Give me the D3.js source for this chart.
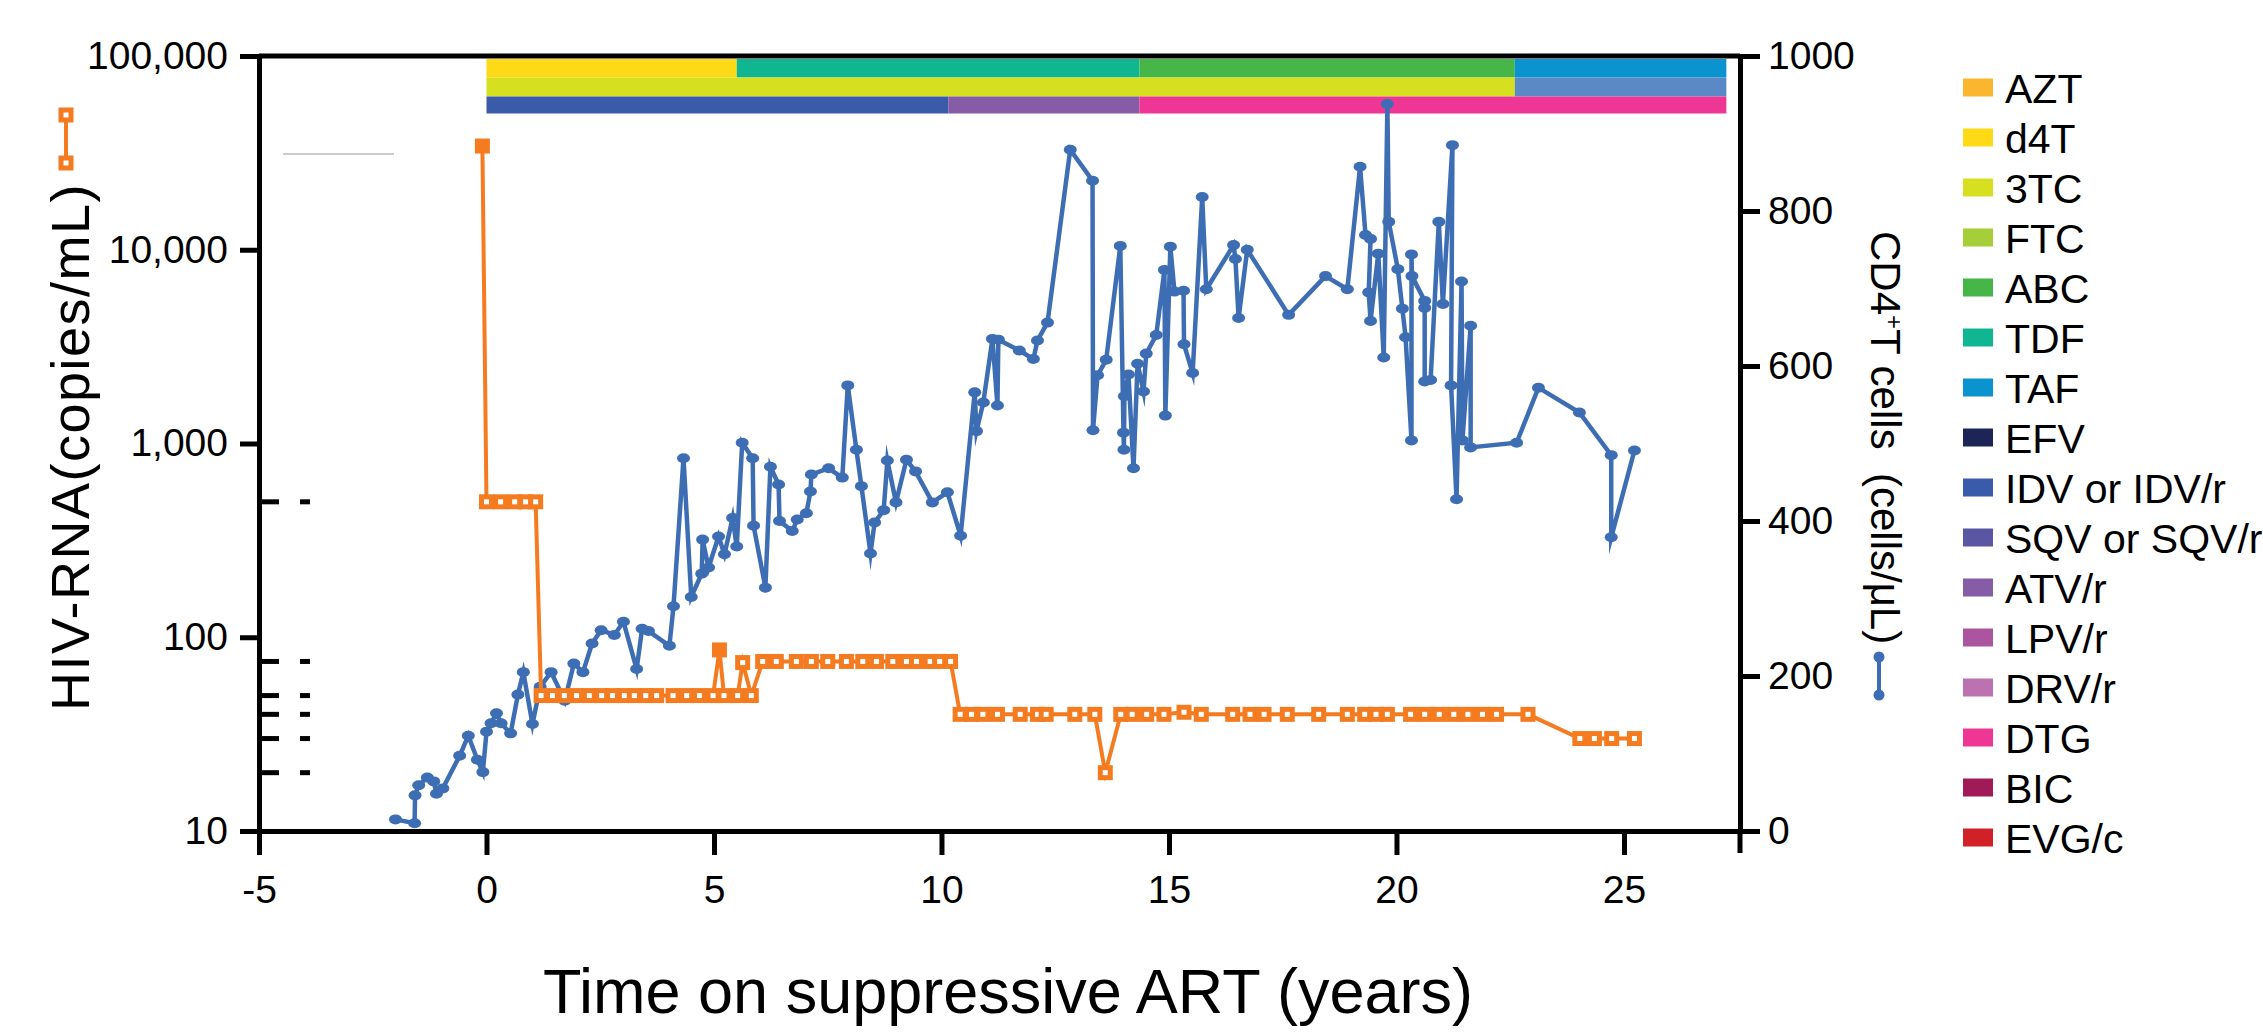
<!DOCTYPE html>
<html>
<head>
<meta charset="utf-8">
<script src="https://cdn.jsdelivr.net/npm/d3@7"></script>
<style>
  body { margin: 0; background: #fff; }
  text { font-family: "Liberation Sans", Arial, Helvetica, sans-serif; }
</style>
</head>
<body>
<div id="chart"></div>
<script>
// ---- data ----
const cd4Years = [-2.0,-1.58,-1.57,-1.49,-1.3,-1.16,-1.1,-0.96,-0.59,-0.4,-0.2,-0.08,0.0,0.1,0.22,0.32,0.53,0.69,0.81,1.01,1.18,1.42,1.72,1.92,2.12,2.32,2.52,2.81,3.01,3.3,3.42,3.56,4.02,4.11,4.33,4.5,4.73,4.75,4.88,5.1,5.23,5.41,5.5,5.62,5.85,5.87,6.13,6.24,6.42,6.44,6.72,6.83,7.03,7.12,7.14,7.52,7.82,7.94,8.13,8.24,8.44,8.53,8.73,8.81,9.0,9.23,9.43,9.8,10.13,10.42,10.73,10.77,10.92,11.12,11.23,11.25,11.71,12.02,12.11,12.33,12.83,13.32,13.33,13.43,13.62,13.93,14.0,14.01,14.02,14.11,14.22,14.31,14.44,14.5,14.72,14.9,14.92,15.03,15.12,15.32,15.33,15.52,15.73,15.82,16.42,16.46,16.53,16.72,17.63,18.44,18.92,19.2,19.32,19.43,19.39,19.43,19.6,19.72,19.8,19.83,20.03,20.13,20.2,20.33,20.33,20.34,20.62,20.62,20.62,20.75,20.93,21.02,21.23,21.2,21.32,21.43,21.45,21.63,21.63,22.64,23.12,24.02,24.72,24.72,25.23];
const cd4Counts = [15,10,46,59,69,64,48,55,97,123,92,76,128,139,152,139,126,176,205,138,186,205,168,216,205,242,259,253,270,209,261,258,239,290,481,302,332,376,340,380,357,404,367,501,481,394,314,470,447,400,387,402,410,438,460,468,456,575,492,445,358,398,414,478,424,479,464,424,437,381,566,516,553,635,549,634,620,609,633,656,879,839,517,588,608,755,514,492,561,589,468,603,567,616,640,724,536,754,696,697,628,591,818,699,756,738,662,750,666,716,699,857,769,764,695,658,745,611,938,786,725,674,637,504,744,716,684,675,580,582,786,680,885,575,428,709,504,652,495,501,572,540,485,379,491];

const vlYears = [-0.09,0.0,0.31,0.62,0.86,1.08,1.2,1.45,1.71,1.98,2.26,2.53,2.77,3.03,3.25,3.5,3.74,4.1,4.4,4.68,4.98,5.12,5.22,5.52,5.63,5.82,6.07,6.37,6.81,7.14,7.5,7.91,8.27,8.57,8.93,9.23,9.45,9.75,9.96,10.2,10.41,10.66,10.91,11.23,11.73,12.11,12.3,12.93,13.37,13.6,13.94,14.19,14.51,14.89,15.33,15.71,16.4,16.78,17.09,17.6,18.29,18.92,19.3,19.55,19.8,20.31,20.62,20.94,21.26,21.57,21.89,22.2,22.89,24.03,24.35,24.73,25.23];
const vlCopies = [34300,500,500,500,500,500,50,50,50,50,50,50,50,50,50,50,50,50,50,50,50,86,50,50,74,50,75,75,75,75,75,75,75,75,75,75,75,75,75,75,40,40,40,40,40,40,40,40,40,20,40,40,40,40,41,40,40,40,40,40,40,40,40,40,40,40,40,40,40,40,40,40,40,30,30,30,30];
// detected (filled marker) vs below limit (open marker)
const vlDetected = [-0.09, 5.12];

const vlTicks = [10, 100, 1000, 10000, 100000];
const cd4Ticks = [0, 200, 400, 600, 800, 1000];
const xTicks = [-5, 0, 5, 10, 15, 20, 25];
const assayLimits = [500, 75, 50, 40, 30, 20];

// regimen bands at the top: row, drug, start, end (years)
const bandRow = [0, 0, 0, 0, 1, 1, 2, 2, 2];
const bandDrug = ["d4T", "TDF", "ABC", "TAF", "3TC", "other", "IDV or IDV/r", "ATV/r", "DTG"];
const bandStart = [0, 5.5, 14.35, 22.6, 0, 22.6, 0, 10.15, 14.35];
const bandEnd = [5.5, 14.35, 22.6, 27.25, 22.6, 27.25, 10.15, 14.35, 27.25];

const legendDrugs = ["AZT","d4T","3TC","FTC","ABC","TDF","TAF","EFV","IDV or IDV/r","SQV or SQV/r","ATV/r","LPV/r","DRV/r","DTG","BIC","EVG/c"];
const legendColors = ["#fbb62f","#feda16","#d7e020","#a6ce39","#46b649","#10b591","#0b93d0","#1c2556","#3a5ba9","#5b56a4","#865ca6","#ab55a0","#bc72b0","#ee3794","#a01a58","#d12027"];

// ---- drawing ----
const width = 2263, height = 1032;
const orange = "#f47b20", blue = "#3d6eb4";
const drugColor = {};
legendDrugs.forEach((d, i) => drugColor[d] = legendColors[i]);
drugColor["other"] = "#5b89c6";

const svg = d3.select("#chart").append("svg")
    .attr("width", width)
    .attr("height", height);

const x = d3.scaleLinear().domain([-5, 27.55]).range([259, 1740]);
const yVL = d3.scaleLog().domain([10, 100000]).range([831, 56]);
const yCD4 = d3.scaleLinear().domain([0, 1000]).range([831, 56]);

const styleAxis = g => {
    g.select(".domain").attr("stroke-width", 5).attr("stroke-linecap", "square");
    g.selectAll(".tick line").attr("stroke-width", 5);
    g.selectAll(".tick text")
        .style("font-size", "39px")
        .style("font-family", '"Liberation Sans", Arial, sans-serif')
        .attr("fill", "#000");
};

// top frame line
svg.append("line")
    .attr("x1", x(-5)).attr("x2", x(27.55))
    .attr("y1", yVL(100000)).attr("y2", yVL(100000))
    .attr("stroke", "#000").attr("stroke-width", 5);

// x axis
svg.append("g")
    .attr("transform", `translate(0, ${yVL(10)})`)
    .call(d3.axisBottom(x).tickValues(xTicks).tickFormat(d => String(d))
        .tickSize(24).tickSizeOuter(0).tickPadding(20))
    .call(styleAxis);

// left axis (log)
svg.append("g")
    .attr("transform", `translate(${x(-5)}, 0)`)
    .call(d3.axisLeft(yVL).tickValues(vlTicks).tickFormat(d3.format(",")).tickSize(19).tickSizeOuter(0).tickPadding(12))
    .call(styleAxis);

// right axis
svg.append("g")
    .attr("transform", `translate(${x(27.55)}, 0)`)
    .call(d3.axisRight(yCD4).tickValues(cd4Ticks).tickFormat(d => String(d))
        .tickSize(20).tickSizeOuter(0).tickPadding(8))
    .call(styleAxis);

svg.append("line")
    .attr("x1", x(27.55)).attr("x2", x(27.55))
    .attr("y1", yCD4(0)).attr("y2", yCD4(0) + 22)
    .attr("stroke", "#000").attr("stroke-width", 5);

// assay detection limit dashes
const limits = svg.append("g");
limits.selectAll("line.a")
    .data(assayLimits)
    .join("line")
    .attr("x1", x(-5)).attr("x2", x(-5) + 20)
    .attr("y1", d => yVL(d)).attr("y2", d => yVL(d))
    .attr("stroke", "#000").attr("stroke-width", 5);
limits.selectAll("line.b")
    .data(assayLimits)
    .enter().append("line")
    .attr("x1", x(-5) + 41).attr("x2", x(-5) + 51)
    .attr("y1", d => yVL(d)).attr("y2", d => yVL(d))
    .attr("stroke", "#000").attr("stroke-width", 5);

// faint gray stray line
svg.append("line")
    .attr("x1", 283).attr("x2", 394)
    .attr("y1", 154).attr("y2", 154)
    .attr("stroke", "#bbb").attr("stroke-width", 1.5);

// regimen bands
const bandH = [18.5, 19, 17];
const bandY = [59, 77.5, 96.5];
svg.append("g").selectAll("rect")
    .data(bandDrug.map((d, i) => ({ drug: d, row: bandRow[i], start: bandStart[i], end: bandEnd[i] })))
    .join("rect")
    .attr("x", d => x(d.start))
    .attr("width", d => x(d.end) - x(d.start))
    .attr("y", d => bandY[d.row])
    .attr("height", d => bandH[d.row])
    .attr("fill", d => drugColor[d.drug]);

// CD4 series
const cd4Data = cd4Years.map((t, i) => ({ t, v: cd4Counts[i] }));
svg.append("path")
    .datum(cd4Data)
    .attr("fill", "none")
    .attr("stroke", blue)
    .attr("stroke-width", 4.5)
    .attr("stroke-linejoin", "miter")
    .attr("stroke-miterlimit", 8)
    .attr("d", d3.line().x(d => x(d.t)).y(d => yCD4(d.v)));
svg.append("g").selectAll("ellipse")
    .data(cd4Data)
    .join("ellipse")
    .attr("cx", d => x(d.t))
    .attr("cy", d => yCD4(d.v))
    .attr("rx", 6.5)
    .attr("ry", 5)
    .attr("fill", blue);

// HIV-RNA series
const vlData = vlYears.map((t, i) => ({ t, v: vlCopies[i], filled: vlDetected.includes(t) }));
svg.append("path")
    .datum(vlData)
    .attr("fill", "none")
    .attr("stroke", orange)
    .attr("stroke-width", 4)
    .attr("stroke-linejoin", "miter")
    .attr("stroke-miterlimit", 8)
    .attr("d", d3.line().x(d => x(d.t)).y(d => yVL(d.v)));
svg.append("g").selectAll("rect")
    .data(vlData)
    .join("rect")
    .attr("x", d => x(d.t) - 5)
    .attr("y", d => yVL(d.v) - 5)
    .attr("width", 10)
    .attr("height", 10)
    .attr("fill", d => d.filled ? orange : "#fff")
    .attr("stroke", orange)
    .attr("stroke-width", 5);

// axis titles
svg.append("text")
    .attr("transform", "translate(89, 447) rotate(-90)")
    .attr("text-anchor", "middle")
    .style("font-size", "54px")
    .style("letter-spacing", "1.5px")
    .text("HIV-RNA(copies/mL)");

const rightTitle = svg.append("text")
    .attr("transform", "translate(1871, 231) rotate(90)")
    .style("font-size", "42px")
    .style("white-space", "pre");
rightTitle.append("tspan").text("CD4");
rightTitle.append("tspan").attr("dy", -15).style("font-size", "24px").text("+");
rightTitle.append("tspan").attr("dy", 15).text("T cells  (cells/μL)");

svg.append("text")
    .attr("x", 1008)
    .attr("y", 1013)
    .attr("text-anchor", "middle")
    .style("font-size", "63px")
    .text("Time on suppressive ART (years)");

// series keys next to the axis titles
const vlKey = svg.append("g");
vlKey.append("line").attr("x1", 66).attr("x2", 66).attr("y1", 115).attr("y2", 163)
    .attr("stroke", orange).attr("stroke-width", 4);
vlKey.selectAll("rect").data([115, 163]).join("rect")
    .attr("x", 61).attr("y", d => d - 5).attr("width", 10).attr("height", 10)
    .attr("fill", "#fff").attr("stroke", orange).attr("stroke-width", 5);

const cd4Key = svg.append("g");
cd4Key.append("line").attr("x1", 1879).attr("x2", 1879).attr("y1", 657).attr("y2", 695)
    .attr("stroke", blue).attr("stroke-width", 4);
cd4Key.selectAll("circle").data([657, 695]).join("circle")
    .attr("cx", 1879).attr("cy", d => d).attr("r", 5.5).attr("fill", blue);

// drug legend
const legend = svg.append("g").attr("transform", "translate(1963, 87.5)");
legend.selectAll("rect")
    .data(legendDrugs)
    .join("rect")
    .attr("x", 0)
    .attr("y", (d, i) => i * 50 - 9)
    .attr("width", 30)
    .attr("height", 18)
    .attr("fill", (d, i) => legendColors[i]);
legend.selectAll("text")
    .data(legendDrugs)
    .join("text")
    .attr("x", 42)
    .attr("y", (d, i) => i * 50 + 15)
    .style("font-size", "41px")
    .text(d => d);
</script>
</body>
</html>
